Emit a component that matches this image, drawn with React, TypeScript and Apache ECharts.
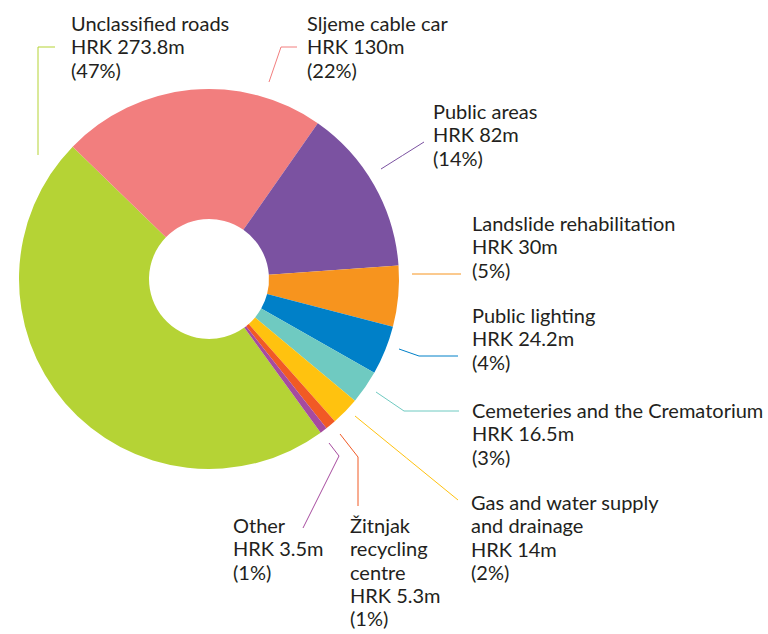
import React, { useEffect, useRef } from "react";
import * as echarts from "echarts";

const categories = [
  "Unclassified roads",
  "Sljeme cable car",
  "Public areas",
  "Landslide rehabilitation",
  "Public lighting",
  "Cemeteries and the Crematorium",
  "Gas and water supply\nand drainage",
  "Žitnjak\nrecycling\ncentre",
  "Other",
];
const values = [273.8, 130, 82, 30, 24.2, 16.5, 14, 5.3, 3.5];
const sliceColors = [
  "#b5d335",
  "#f27e7e",
  "#7b52a1",
  "#f7941e",
  "#0080c8",
  "#6fcac1",
  "#ffc20f",
  "#f15a25",
  "#a64b9f",
];

// layout: label left x and cap-top y
const labelPos = [
  [71, 15],
  [307, 15],
  [433, 103],
  [472, 215],
  [472, 307],
  [472, 402],
  [471, 494],
  [350, 517],
  [233, 517],
];
const leaderLines = [
  [[38, 155], [38, 47], [55, 47]],
  [[269, 82], [281, 47], [297, 47]],
  [[381, 169], [402.5, 155.5], [424, 142]],
  [[412, 274], [436, 274], [461, 274]],
  [[399, 349], [419, 356], [458, 356]],
  [[376, 392], [404, 411], [459, 411]],
  [[355, 416], [406.5, 458], [458, 500]],
  [[340, 434], [358, 457], [358, 506]],
  [[329, 443], [339, 456], [303, 528]],
];

export default function App() {
  const ref = useRef<HTMLDivElement>(null);
  useEffect(() => {
    const chart = echarts.init(ref.current!, null, { renderer: "svg" });
    chart.setOption({
      animation: false,
      backgroundColor: "#ffffff",
      series: [
        {
          type: "pie",
          center: [209, 279],
          radius: [60, 190],
          startAngle: 306,
          clockwise: true,
          avoidLabelOverlap: false,
          emphasis: { disabled: true },
          data: categories.map((name, i) => ({
            name,
            value: values[i],
            itemStyle: { color: sliceColors[i] },
          })),
          label: {
            show: true,
            position: "outside",
            formatter: (p: any) =>
              `${p.name}\nHRK ${p.value}m\n(${Math.round(p.percent)}%)`,
            fontFamily: "Lato",
            fontWeight: 400,
            fontSize: 20,
            lineHeight: 23.4,
            color: "#231f20",
          },
          labelLine: { show: true, smooth: false, lineStyle: { width: 1 } },
          labelLayout: (p: any) => ({
            x: labelPos[p.dataIndex][0],
            y: labelPos[p.dataIndex][1] - 4,
            align: "left",
            verticalAlign: "top",
            labelLinePoints: leaderLines[p.dataIndex],
          }),
        },
      ],
    });
    return () => chart.dispose();
  }, []);
  return (
    <div
      ref={ref}
      style={{ position: "absolute", left: 0, top: 0, width: 768, height: 634 }}
    />
  );
}
